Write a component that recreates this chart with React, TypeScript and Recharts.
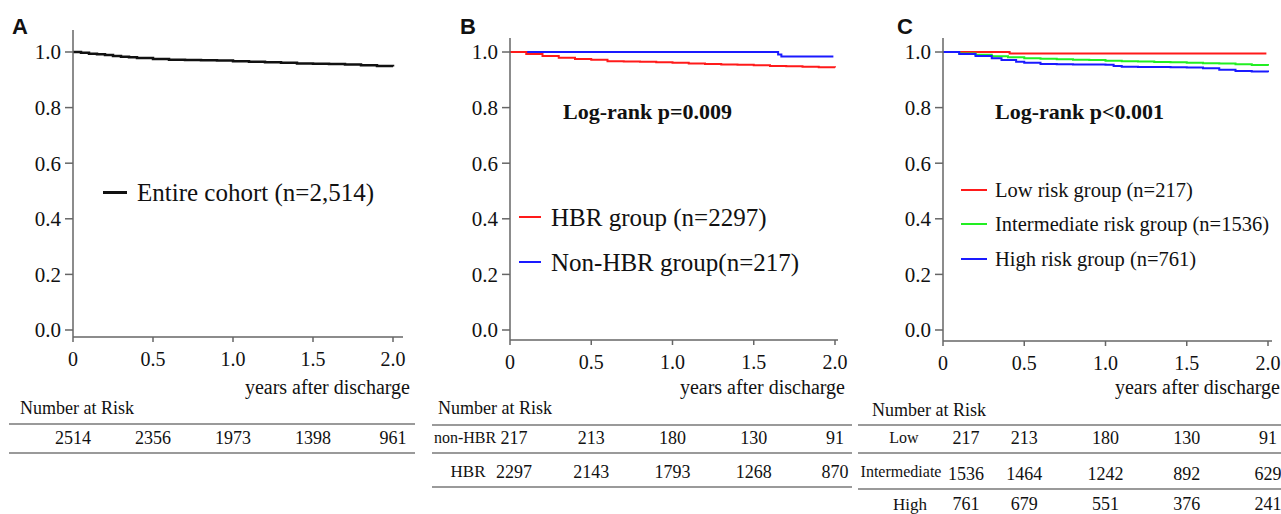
import React from 'react';
import { LineChart, Line, XAxis, YAxis } from 'recharts';

// ---------- data ----------
const yTicks = [0, 0.2, 0.4, 0.6, 0.8, 1.0];
const xTicks = [0, 0.5, 1.0, 1.5, 2.0];
const riskTimes = [0, 0.5, 1.0, 1.5, 2.0];

// Panel A: entire cohort
const entireT = [0, 0.05, 0.1, 0.15, 0.2, 0.25, 0.3, 0.35, 0.4, 0.5, 0.6, 0.7, 0.8, 0.9, 1.0, 1.1, 1.2, 1.3, 1.4, 1.5, 1.6, 1.7, 1.8, 1.9, 2.0];
const entireS = [1.0, 0.997, 0.994, 0.992, 0.989, 0.986, 0.983, 0.981, 0.978, 0.975, 0.972, 0.971, 0.970, 0.969, 0.967, 0.965, 0.963, 0.961, 0.959, 0.958, 0.957, 0.955, 0.952, 0.950, 0.948];

// Panel B
const hbrT = [0, 0.1, 0.2, 0.3, 0.4, 0.5, 0.6, 0.7, 0.8, 0.9, 1.0, 1.1, 1.2, 1.3, 1.4, 1.5, 1.6, 1.7, 1.8, 1.9, 2.0];
const hbrS = [1.0, 0.993, 0.986, 0.979, 0.975, 0.972, 0.967, 0.966, 0.965, 0.963, 0.961, 0.959, 0.957, 0.955, 0.954, 0.952, 0.950, 0.949, 0.947, 0.945, 0.944];
const nonHbrT = [0, 1.65, 1.67, 1.99];
const nonHbrS = [1.0, 0.991, 0.984, 0.984];

// Panel C
const lowT = [0, 0.41, 1.99];
const lowS = [1.0, 0.995, 0.995];
const interT = [0, 0.1, 0.2, 0.3, 0.4, 0.5, 0.6, 0.7, 0.8, 0.9, 1.0, 1.1, 1.2, 1.3, 1.4, 1.5, 1.6, 1.7, 1.8, 1.9, 2.0];
const interS = [1.0, 0.995, 0.990, 0.985, 0.981, 0.978, 0.976, 0.974, 0.972, 0.971, 0.969, 0.967, 0.966, 0.964, 0.963, 0.961, 0.960, 0.959, 0.956, 0.953, 0.951];
const highT = [0, 0.1, 0.2, 0.3, 0.36, 0.45, 0.5, 0.6, 0.7, 0.8, 0.9, 1.0, 1.05, 1.1, 1.2, 1.3, 1.4, 1.5, 1.6, 1.7, 1.8, 1.9, 2.0];
const highS = [1.0, 0.993, 0.986, 0.978, 0.971, 0.965, 0.961, 0.957, 0.956, 0.955, 0.955, 0.954, 0.950, 0.947, 0.946, 0.946, 0.945, 0.944, 0.942, 0.936, 0.932, 0.930, 0.927];

// Number at risk
const riskEntire = [2514, 2356, 1973, 1398, 961];
const riskNonHbr = [217, 213, 180, 130, 91];
const riskHbr = [2297, 2143, 1793, 1268, 870];
const riskLow = [217, 213, 180, 130, 91];
const riskInter = [1536, 1464, 1242, 892, 629];
const riskHigh = [761, 679, 551, 376, 241];

const labelsB = ['non-HBR', 'HBR'];
const labelsC = ['Low', 'Intermediate', 'High'];

const legendA = ['Entire cohort (n=2,514)'];
const legendB = ['HBR group (n=2297)', 'Non-HBR group(n=217)'];
const legendC = ['Low risk group (n=217)', 'Intermediate risk group (n=1536)', 'High risk group (n=761)'];

const build = (t: number[], s: number[]) => t.map((v, i) => ({ t: v, s: s[i] }));

// ---------- styles ----------
const FONT = '"Liberation Serif", "Times New Roman", serif';
const SANS = '"Liberation Sans", Arial, sans-serif';
const W = 1281;
const AXIS = '#666';
const RED = '#ff1a1a';
const BLUE = '#1a1aff';
const GREEN = '#22ee22';

type Cfg = { left: number; yAxisX: number; plotTop: number; plotBottom: number; plotRight: number; xMax: number; yMin: number; yMax: number };

const cfgA: Cfg = { left: 0, yAxisX: 73, plotTop: 30, plotBottom: 337, plotRight: 403, xMax: 2.0625, yMin: -0.0252, yMax: 1.0791 };
const cfgB: Cfg = { left: 430, yAxisX: 510, plotTop: 38, plotBottom: 340, plotRight: 838, xMax: 2.0185, yMin: -0.036, yMax: 1.0504 };
const cfgC: Cfg = { left: 855, yAxisX: 943, plotTop: 38, plotBottom: 341, plotRight: 1272, xMax: 2.0246, yMin: -0.0396, yMax: 1.0504 };

const xPos = (c: Cfg, t: number) => c.yAxisX + (t * (c.plotRight - c.yAxisX)) / c.xMax;

function Txt(props: { x: number; y: number; size: number; children: React.ReactNode; anchor?: 'start' | 'middle' | 'end'; bold?: boolean; family?: string; color?: string }) {
  const { x, y, size, children, anchor = 'start', bold, family = FONT, color = '#111' } = props;
  const style: React.CSSProperties = {
    position: 'absolute',
    top: y - size / 2,
    fontSize: size,
    lineHeight: `${size}px`,
    fontFamily: family,
    fontWeight: bold ? 700 : 400,
    color,
    whiteSpace: 'nowrap',
  };
  if (anchor === 'start') style.left = x;
  else if (anchor === 'end') style.right = W - x;
  else {
    style.left = x;
    style.transform = 'translateX(-50%)';
  }
  return <div style={style}>{children}</div>;
}

function HLine({ x1, x2, y }: { x1: number; x2: number; y: number }) {
  return <div style={{ position: 'absolute', left: x1, width: x2 - x1, top: y - 0.75, height: 1.5, background: '#9a9a9a' }} />;
}

function LegendLine({ x1, x2, y, color, w }: { x1: number; x2: number; y: number; color: string; w: number }) {
  return <div style={{ position: 'absolute', left: x1, width: x2 - x1, top: y - w / 2, height: w, background: color }} />;
}

type Series = { data: { t: number; s: number }[]; color: string; width: number };

function Panel({ cfg, series }: { cfg: Cfg; series: Series[] }) {
  const rightM = 24;
  const xAxisH = 45;
  const width = cfg.plotRight - cfg.left + rightM;
  const height = cfg.plotBottom + xAxisH;
  return (
    <div style={{ position: 'absolute', left: cfg.left, top: 0 }}>
      <LineChart width={width} height={height} margin={{ top: cfg.plotTop, left: 0, right: rightM, bottom: 0 }}>
        <XAxis
          type="number"
          dataKey="t"
          domain={[0, cfg.xMax]}
          ticks={xTicks}
          interval={0}
          allowDataOverflow
          height={xAxisH}
          tickSize={5}
          tickMargin={10}
          axisLine={{ stroke: AXIS, strokeWidth: 1.5 }}
          tickLine={{ stroke: AXIS, strokeWidth: 1.5 }}
          tick={{ fontSize: 20, fill: '#111', fontFamily: FONT }}
          tickFormatter={(v: number) => (v === 0 ? '0' : v.toFixed(1))}
        />
        <YAxis
          type="number"
          dataKey="s"
          domain={[cfg.yMin, cfg.yMax]}
          ticks={yTicks}
          interval={0}
          allowDataOverflow
          width={cfg.yAxisX - cfg.left}
          tickSize={8}
          tickMargin={4}
          axisLine={{ stroke: AXIS, strokeWidth: 1.5 }}
          tickLine={{ stroke: AXIS, strokeWidth: 1.5 }}
          tick={{ fontSize: 21, fill: '#111', fontFamily: FONT }}
          tickFormatter={(v: number) => v.toFixed(1)}
        />
        {series.map((s, i) => (
          <Line
            key={i}
            data={s.data}
            dataKey="s"
            type="stepAfter"
            stroke={s.color}
            strokeWidth={s.width}
            dot={false}
            activeDot={false}
            isAnimationActive={false}
          />
        ))}
      </LineChart>
    </div>
  );
}

function RiskRow({ cfg, values, y, offset0 = 0 }: { cfg: Cfg; values: number[]; y: number; offset0?: number }) {
  return (
    <>
      {values.map((v, i) => (
        <Txt key={i} x={xPos(cfg, riskTimes[i]) + (i === 0 ? offset0 : 0)} y={y} size={18} anchor="middle">
          {v}
        </Txt>
      ))}
    </>
  );
}

export default function App() {
  return (
    <div style={{ position: 'absolute', left: 0, top: 0, width: W, height: 514, overflow: 'hidden', background: '#fff', fontFamily: FONT }}>
      <style>{`.recharts-cartesian-axis-tick-value { font-family: "Liberation Serif", "Times New Roman", serif; }`}</style>
      {/* Panel A */}
      <Panel cfg={cfgA} series={[{ data: build(entireT, entireS), color: '#111', width: 2.5 }]} />
      <Txt x={12} y={27} size={22} bold family={SANS}>A</Txt>
      <LegendLine x1={103} x2={127} y={192} color="#111" w={3} />
      <Txt x={137} y={192} size={25}>{legendA[0]}</Txt>
      <Txt x={410} y={387} size={20} anchor="end">years after discharge</Txt>
      <Txt x={20} y={408} size={18}>Number at Risk</Txt>
      <HLine x1={9} x2={415} y={424} />
      <RiskRow cfg={cfgA} values={riskEntire} y={438} />
      <HLine x1={9} x2={415} y={453} />

      {/* Panel B */}
      <Panel
        cfg={cfgB}
        series={[
          { data: build(nonHbrT, nonHbrS), color: BLUE, width: 2 },
          { data: build(hbrT, hbrS), color: RED, width: 2 },
        ]}
      />
      <Txt x={460} y={27} size={22} bold family={SANS}>B</Txt>
      <Txt x={563} y={112} size={22} bold>Log-rank p=0.009</Txt>
      <LegendLine x1={519} x2={541} y={217} color={RED} w={2.5} />
      <Txt x={551} y={217} size={25}>{legendB[0]}</Txt>
      <LegendLine x1={519} x2={541} y={262} color={BLUE} w={2.5} />
      <Txt x={551} y={262} size={25}>{legendB[1]}</Txt>
      <Txt x={845} y={387} size={20} anchor="end">years after discharge</Txt>
      <Txt x={438} y={408} size={18}>Number at Risk</Txt>
      <HLine x1={432} x2={852} y={425} />
      <Txt x={465} y={438} size={16} anchor="middle">{labelsB[0]}</Txt>
      <RiskRow cfg={cfgB} values={riskNonHbr} y={438} offset0={4} />
      <HLine x1={432} x2={852} y={453} />
      <Txt x={468} y={471} size={17} anchor="middle">{labelsB[1]}</Txt>
      <RiskRow cfg={cfgB} values={riskHbr} y={472} offset0={4} />
      <HLine x1={432} x2={852} y={487} />

      {/* Panel C */}
      <Panel
        cfg={cfgC}
        series={[
          { data: build(lowT, lowS), color: RED, width: 2 },
          { data: build(interT, interS), color: GREEN, width: 2 },
          { data: build(highT, highS), color: BLUE, width: 2 },
        ]}
      />
      <Txt x={897} y={27} size={22} bold family={SANS}>C</Txt>
      <Txt x={995} y={112} size={22} bold>Log-rank p&lt;0.001</Txt>
      <LegendLine x1={961} x2={987} y={190} color={RED} w={2} />
      <Txt x={995} y={190} size={20.5}>{legendC[0]}</Txt>
      <LegendLine x1={961} x2={987} y={224} color={GREEN} w={2} />
      <Txt x={995} y={224} size={20.5}>{legendC[1]}</Txt>
      <LegendLine x1={961} x2={987} y={259} color={BLUE} w={2} />
      <Txt x={995} y={259} size={20.5}>{legendC[2]}</Txt>
      <Txt x={1280} y={387} size={20} anchor="end">years after discharge</Txt>
      <Txt x={872} y={410} size={18}>Number at Risk</Txt>
      <HLine x1={858} x2={1281} y={425} />
      <Txt x={904} y={438} size={16} anchor="middle">{labelsC[0]}</Txt>
      <RiskRow cfg={cfgC} values={riskLow} y={438} offset0={23} />
      <HLine x1={858} x2={1281} y={453} />
      <Txt x={901} y={472} size={16} anchor="middle">{labelsC[1]}</Txt>
      <RiskRow cfg={cfgC} values={riskInter} y={474} offset0={23} />
      <HLine x1={858} x2={1281} y={489} />
      <Txt x={910} y={504} size={17} anchor="middle">{labelsC[2]}</Txt>
      <RiskRow cfg={cfgC} values={riskHigh} y={504} offset0={23} />
    </div>
  );
}
